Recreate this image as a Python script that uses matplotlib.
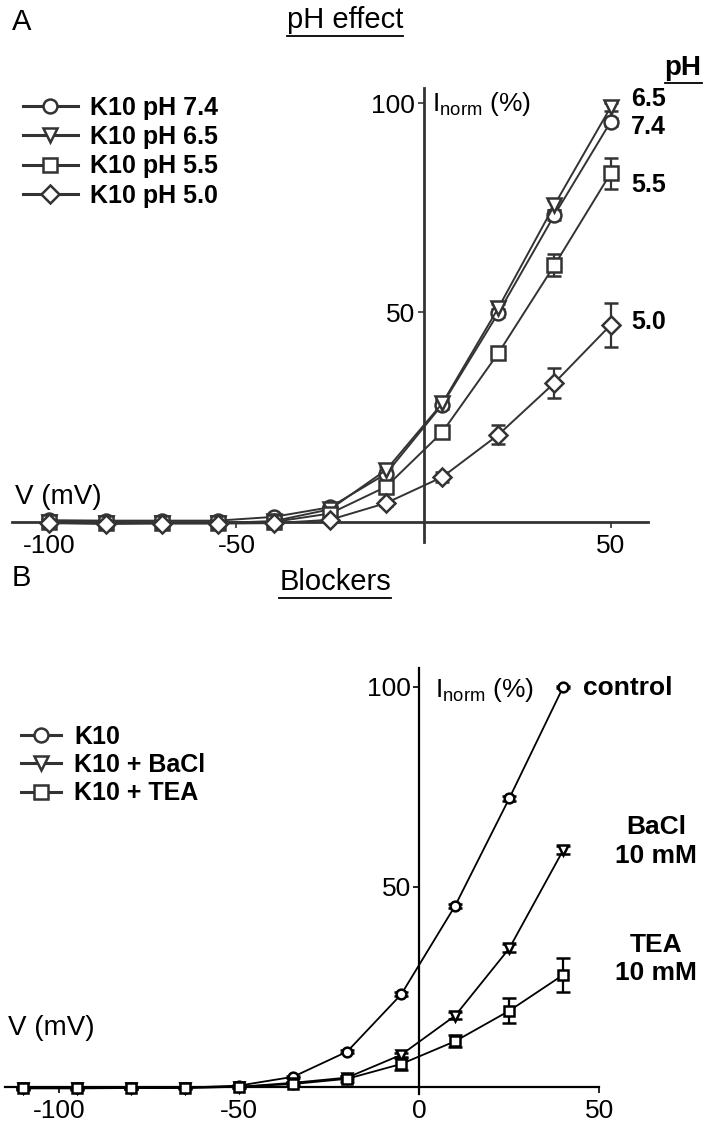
import matplotlib
matplotlib.use("Agg")
import matplotlib.pyplot as plt
from matplotlib.lines import Line2D

plt.rcParams['font.family'] = ['Liberation Sans', 'DejaVu Sans']
plt.rcParams['mathtext.fontset'] = 'custom'
plt.rcParams['mathtext.rm'] = 'Liberation Sans'
plt.rcParams['axes.unicode_minus'] = False

W, H = 708, 1125

# panel A: pH effect
V_A = [-100, -85, -70, -55, -40, -25, -10, 5, 20, 35, 50]
pH74 = [0.4, 0.3, 0.3, 0.3, 1.2, 3.5, 11.5, 28.0, 49.9, 73.3, 95.5]
pH65 = [0.0, -0.2, -0.3, -0.3, 0.2, 3.0, 12.4, 28.3, 51.1, 75.7, 99.0]
pH55 = [0.0, -0.2, -0.2, -0.2, 0.0, 2.0, 8.4, 21.4, 40.3, 61.3, 83.2]
pH50 = [-0.3, -0.5, -0.4, -0.4, -0.3, 0.5, 4.5, 10.7, 20.8, 33.2, 47.0]
err74 = [0.5, 0.5, 0.5, 0.5, 0.5, 0.5, 0.8, 1.0, 1.0, 1.2, 1.0]
err65 = [0.5, 0.5, 0.5, 0.5, 0.5, 0.5, 0.8, 1.0, 1.0, 1.2, 1.0]
err55 = [0.3, 0.3, 0.3, 0.3, 0.3, 0.5, 0.8, 1.2, 1.5, 2.6, 3.8]
err50 = [0.3, 0.3, 0.3, 0.3, 0.3, 0.5, 0.8, 1.2, 2.3, 3.5, 5.2]
labels_A = ['K10 pH 7.4', 'K10 pH 6.5', 'K10 pH 5.5', 'K10 pH 5.0']

# panel B: blockers
V_B = [-110, -95, -80, -65, -50, -35, -20, -5, 10, 25, 40]
K10 = [-0.3, -0.3, -0.3, -0.2, 0.3, 2.5, 8.8, 23.1, 45.3, 72.1, 100.0]
BaCl = [-0.3, -0.3, -0.3, -0.2, 0.0, 1.0, 2.3, 8.0, 17.8, 34.6, 59.2]
TEA = [-0.4, -0.4, -0.3, -0.3, 0.0, 0.7, 2.0, 5.7, 11.4, 19.0, 28.0]
errK10 = [0.2, 0.2, 0.2, 0.2, 0.2, 0.3, 0.4, 0.5, 0.5, 0.6, 0.3]
errBaCl = [0.2, 0.2, 0.2, 0.2, 0.2, 0.3, 0.4, 0.5, 0.8, 1.0, 1.0]
errTEA = [0.3, 0.3, 0.3, 0.3, 0.3, 0.5, 0.8, 1.5, 1.5, 3.1, 4.3]
labels_B = ['K10', 'K10 + BaCl', 'K10 + TEA']

fig = plt.figure(figsize=(W / 100, H / 100), dpi=100)


def px_axes(left, right, top, bottom):
    # axes rectangle given in picture pixels
    return fig.add_axes([left / W, 1 - bottom / H, (right - left) / W, (bottom - top) / H])


def ftext(x, y, s, **kw):
    return fig.text(x / W, 1 - y / H, s, **kw)


def setup_axes(ax, color, lw):
    for side in ['top', 'right']:
        ax.spines[side].set_visible(False)
    ax.spines['left'].set_position(('data', 0))
    ax.spines['bottom'].set_position(('data', 0))
    for side in ['left', 'bottom']:
        ax.spines[side].set_color(color)
        ax.spines[side].set_linewidth(lw)
    ax.set_yticks([50, 100])
    ax.tick_params(axis='both', direction='out', length=4, width=1.2,
                   color=color, labelsize=19, pad=2)
    ax.tick_params(axis='x', pad=5)
    ax.patch.set_alpha(0)


# ---------- panel A ----------
axA = px_axes(12, 648, 88, 542)
axA.set_xlim(-110, 60)
axA.set_ylim(-4.8, 103.6)
setup_axes(axA, '#333333', 2.0)
axA.set_xticks([-100, -50, 50])

gray = '#333333'
seriesA = [(pH74, err74, 'o'), (pH65, err65, 'v'), (pH55, err55, 's'), (pH50, err50, 'D')]
handlesA = []
for (vals, err, mk), lab in zip(seriesA, labels_A):
    ms = 10 if mk != 'D' else 9
    axA.errorbar(V_A, vals, yerr=err, color=gray, lw=1.4, marker=mk, ms=ms,
                 mfc='white', mec=gray, mew=1.8, capsize=5, elinewidth=1.6,
                 capthick=1.6, clip_on=False, zorder=3)
    handlesA.append(Line2D([], [], color=gray, lw=2.2, marker=mk, ms=ms,
                           mfc='white', mec=gray, mew=1.8))

axA.legend(handlesA, labels_A, loc='upper left', bbox_to_anchor=(10 / W, 1 - 83 / H),
           bbox_transform=fig.transFigure, frameon=False, handlelength=2.2,
           handletextpad=0.5, labelspacing=0.22, borderpad=0,
           prop={'weight': 'bold', 'size': 18})

ftext(15, 497, 'V (mV)', fontsize=20, ha='left', va='center')
ftext(432, 104, r'I$_{\mathrm{norm}}$ (%)', fontsize=19, ha='left', va='center')
ftext(12, 22, 'A', fontsize=21, ha='left', va='center')
tA = ftext(345, 20, 'pH effect', fontsize=21, ha='center', va='center')
tpH = ftext(683, 68, 'pH', fontsize=20, ha='center', va='center', weight='bold')
ftext(631, 99, '6.5', fontsize=18, ha='left', va='center', weight='bold')
ftext(631, 127, '7.4', fontsize=18, ha='left', va='center', weight='bold')
ftext(631, 185, '5.5', fontsize=18, ha='left', va='center', weight='bold')
ftext(631, 322, '5.0', fontsize=18, ha='left', va='center', weight='bold')

# ---------- panel B ----------
axB = px_axes(5, 599.3, 668, 1094)
axB.set_xlim(-115, 50)
axB.set_ylim(-1.8, 104.7)
setup_axes(axB, 'black', 1.6)
axB.set_xticks([-100, -50, 0, 50])

seriesB = [(K10, errK10, 'o'), (BaCl, errBaCl, 'v'), (TEA, errTEA, 's')]
handlesB = []
for (vals, err, mk), lab in zip(seriesB, labels_B):
    axB.errorbar(V_B, vals, yerr=err, color='black', lw=1.3, marker=mk, ms=7,
                 mfc='white', mec='black', mew=1.8, capsize=5, elinewidth=1.6,
                 capthick=1.6, clip_on=False, zorder=3)
    handlesB.append(Line2D([], [], color='#333333', lw=2.2, marker=mk, ms=10,
                           mfc='white', mec='#333333', mew=1.8))

axB.legend(handlesB, labels_B, loc='upper left', bbox_to_anchor=(8 / W, 1 - 712 / H),
           bbox_transform=fig.transFigure, frameon=False, handlelength=1.6,
           handletextpad=0.55, labelspacing=0.18, borderpad=0,
           prop={'weight': 'bold', 'size': 18})

ftext(8, 1028, 'V (mV)', fontsize=20, ha='left', va='center')
ftext(435, 690, r'I$_{\mathrm{norm}}$ (%)', fontsize=19, ha='left', va='center')
ftext(12, 578, 'B', fontsize=21, ha='left', va='center')
tB = ftext(335, 582, 'Blockers', fontsize=21, ha='center', va='center')
ftext(583, 688, 'control', fontsize=19, ha='left', va='center', weight='bold')
ftext(656, 827, 'BaCl', fontsize=19, ha='center', va='center', weight='bold')
ftext(656, 856, '10 mM', fontsize=19, ha='center', va='center', weight='bold')
ftext(656, 945, 'TEA', fontsize=19, ha='center', va='center', weight='bold')
ftext(656, 973, '10 mM', fontsize=19, ha='center', va='center', weight='bold')

# underline the titles
fig.canvas.draw()
inv = fig.transFigure.inverted()
for t in [tA, tpH, tB]:
    bb = t.get_window_extent()
    (x0, y0), (x1, y1) = inv.transform([(bb.x0, bb.y0), (bb.x1, bb.y0)])
    fig.add_artist(Line2D([x0, x1], [y0 - 0.002, y0 - 0.002], color='black', lw=1.3,
                          transform=fig.transFigure))

fig.savefig('out.png', dpi=100)
